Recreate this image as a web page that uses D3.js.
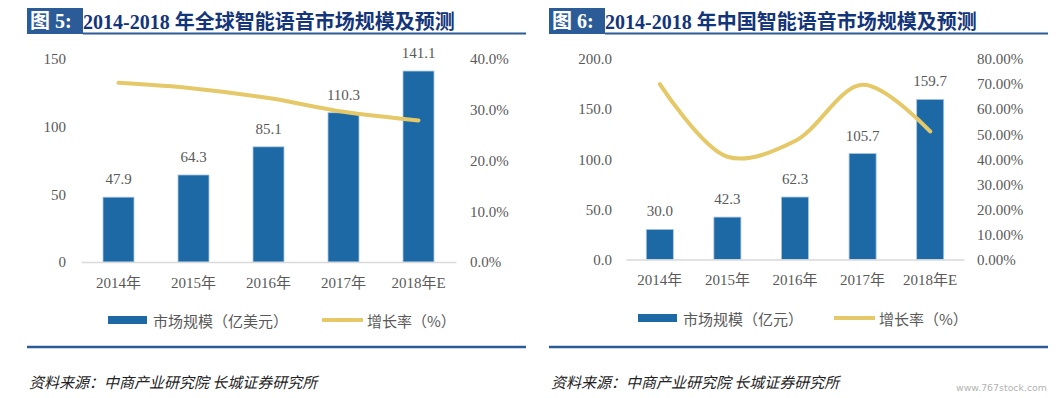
<!DOCTYPE html>
<html>
<head>
<meta charset="utf-8">
<script src="https://cdn.jsdelivr.net/npm/d3@7"></script>
<style>
  body { margin: 0; background: #fff; }
  svg { display: block; }
  .tick text { font-family: "Liberation Serif", "Noto Sans CJK SC", serif; font-size: 15px; fill: #595959; }
</style>
</head>
<body>
<svg width="1061" height="398"></svg>
<script>
// ---- data ----
var years = ["2014年", "2015年", "2016年", "2017年", "2018年E"];

var globalMarket = [47.9, 64.3, 85.1, 110.3, 141.1];   // 亿美元
var globalGrowth = [35.3, 34.2, 32.3, 29.6, 27.9];     // %
var globalLeftTicks = [0, 50, 100, 150];
var globalRightTicks = [0, 10, 20, 30, 40];

var chinaMarket = [30.0, 42.3, 62.3, 105.7, 159.7];    // 亿元
var chinaGrowth = [70.0, 41.0, 47.3, 69.7, 51.1];      // %
var chinaLeftTicks = [0, 50, 100, 150, 200];
var chinaRightTicks = [0, 10, 20, 30, 40, 50, 60, 70, 80];

// ---- colours / fonts ----
var blue = "#1c69a5",
    gold = "#e5c867",
    navy = "#2c5c97",
    grey = "#595959",
    serif = "'Liberation Serif', 'Noto Sans CJK SC', serif",
    cjk = "'Noto Sans CJK SC', sans-serif";

var svg = d3.select("svg");
svg.append("rect").attr("width", 1061).attr("height", 398).attr("fill", "#fff");

/**
 * one panel: title, bars, growth line, legend, source
 */
function panel(p) {
  var g = svg.append("g");

  // ### title block
  g.append("rect")
      .attr("x", p.boxX).attr("y", 8)
      .attr("width", p.boxW).attr("height", 26)
      .attr("fill", navy);
  g.append("text")
      .attr("x", p.boxX + 3).attr("y", 28)
      .attr("font-family", serif).attr("font-size", 20).attr("font-weight", "bold")
      .attr("fill", "#fff")
      .text(p.fig);
  g.append("line")
      .attr("x1", p.boxX + p.boxW).attr("x2", p.ruleEnd)
      .attr("y1", 33.5).attr("y2", 33.5)
      .attr("stroke", navy).attr("stroke-width", 2);
  g.append("text")
      .attr("x", p.boxX + p.boxW).attr("y", 29)
      .attr("font-family", serif).attr("font-size", 20).attr("font-weight", "bold")
      .attr("fill", "#13357a")
      .text(p.title);

  // ### scales
  var x = d3.scaleBand()
      .domain(years)
      .range([p.x0, p.x1])
      .paddingInner(p.pad)
      .paddingOuter(p.pad / 2);

  var y = d3.scaleLinear().domain(p.yDomain).range([p.base, 59]);
  var y2 = d3.scaleLinear().domain(p.pDomain).range([p.base, 59]);

  // ### axes
  var ax = g.append("g")
      .attr("transform", "translate(" + p.leftAxisX + ",0)")
      .call(d3.axisLeft(y).tickValues(p.leftTicks).tickSize(0).tickPadding(0)
        .tickFormat(d3.format(p.leftFmt)));
  ax.select(".domain").remove();

  var ax2 = g.append("g")
      .attr("transform", "translate(" + p.rightAxisX + ",0)")
      .call(d3.axisRight(y2).tickValues(p.rightTicks).tickSize(0).tickPadding(0)
        .tickFormat(function(d) { return d3.format(p.rightFmt)(d) + "%"; }));
  ax2.select(".domain").remove();

  // bars
  g.append("g").selectAll("rect")
    .data(p.market)
    .enter().append("rect")
      .attr("x", function(d, i) { return x(years[i]); })
      .attr("y", function(d) { return y(d); })
      .attr("width", x.bandwidth())
      .attr("height", function(d) { return p.base - y(d); })
      .attr("fill", blue)
      .attr("stroke", "#a9c6e2")
      .attr("stroke-width", 0.8);

  var xa = g.append("g")
      .attr("transform", "translate(0," + p.base + ")")
      .call(d3.axisBottom(x).tickSize(0).tickSizeOuter(0).tickPadding(p.xPad));
  xa.select(".domain").attr("stroke", "#d9d9d9").attr("stroke-width", 1.5);

  // bar labels
  g.append("g").selectAll("text")
    .data(p.market)
    .enter().append("text")
      .attr("x", function(d, i) { return x(years[i]) + x.bandwidth() / 2; })
      .attr("y", function(d) { return y(d) - 13; })
      .attr("text-anchor", "middle")
      .attr("font-family", serif).attr("font-size", 15)
      .attr("fill", grey)
      .text(function(d) { return d3.format(".1f")(d); });

  // growth line
  var line = d3.line()
      .x(function(d, i) { return x(years[i]) + x.bandwidth() / 2; })
      .y(function(d) { return y2(d); })
      .curve(d3.curveCatmullRom);

  g.append("path")
      .datum(p.growth)
      .attr("d", line)
      .attr("fill", "none")
      .attr("stroke", gold)
      .attr("stroke-width", 4)
      .attr("stroke-linecap", "round");

  // ### legend
  var lg = g.append("g").attr("font-family", cjk).attr("font-size", 15).attr("fill", grey);
  lg.append("rect")
      .attr("x", p.legX).attr("y", p.legY - 4)
      .attr("width", 39).attr("height", 8)
      .attr("fill", blue);
  lg.append("text")
      .attr("x", p.legX + 45).attr("y", p.legY)
      .attr("dominant-baseline", "central")
      .text(p.barName);
  lg.append("line")
      .attr("x1", p.legX2).attr("x2", p.legX2 + 41)
      .attr("y1", p.legY).attr("y2", p.legY)
      .attr("stroke", gold).attr("stroke-width", 4);
  lg.append("text")
      .attr("x", p.legX2 + 45).attr("y", p.legY)
      .attr("dominant-baseline", "central")
      .text("增长率（%）");

  // ### bottom rule + source
  g.append("line")
      .attr("x1", p.boxX).attr("x2", p.ruleEnd)
      .attr("y1", 347).attr("y2", 347)
      .attr("stroke", navy).attr("stroke-width", 2.5);
  g.append("text")
      .attr("x", p.boxX + 2).attr("y", 381)
      .attr("dominant-baseline", "central")
      .attr("font-family", cjk).attr("font-size", 15).attr("font-style", "italic")
      .attr("fill", "#222")
      .text("资料来源：中商产业研究院 长城证券研究所");
}

panel({
  fig: "图 5:", title: "2014-2018 年全球智能语音市场规模及预测",
  boxX: 27, boxW: 56, ruleEnd: 526,
  x0: 81, x1: 456, pad: 0.587, base: 262,
  yDomain: [0, 150], pDomain: [0, 40],
  leftTicks: globalLeftTicks, rightTicks: globalRightTicks,
  leftFmt: "d", rightFmt: ".1f",
  leftAxisX: 66, rightAxisX: 470, xPad: 15,
  market: globalMarket, growth: globalGrowth,
  legX: 108, legX2: 322, legY: 320, barName: "市场规模（亿美元）"
});

panel({
  fig: "图 6:", title: "2014-2018 年中国智能语音市场规模及预测",
  boxX: 549, boxW: 56, ruleEnd: 1048,
  x0: 626, x1: 964, pad: 0.6, base: 259.5,
  yDomain: [0, 200], pDomain: [0, 80],
  leftTicks: chinaLeftTicks, rightTicks: chinaRightTicks,
  leftFmt: ".1f", rightFmt: ".2f",
  leftAxisX: 612, rightAxisX: 977, xPad: 15,
  market: chinaMarket, growth: chinaGrowth,
  legX: 638, legX2: 834, legY: 318, barName: "市场规模（亿元）"
});

// watermark
svg.append("text")
    .attr("x", 956).attr("y", 387)
    .attr("dominant-baseline", "central")
    .attr("font-family", "'DejaVu Sans', sans-serif").attr("font-size", 9.5)
    .attr("textLength", 91).attr("lengthAdjust", "spacingAndGlyphs")
    .attr("fill", "#b3b3b3")
    .text("www.767stock.com");
</script>
</body>
</html>
